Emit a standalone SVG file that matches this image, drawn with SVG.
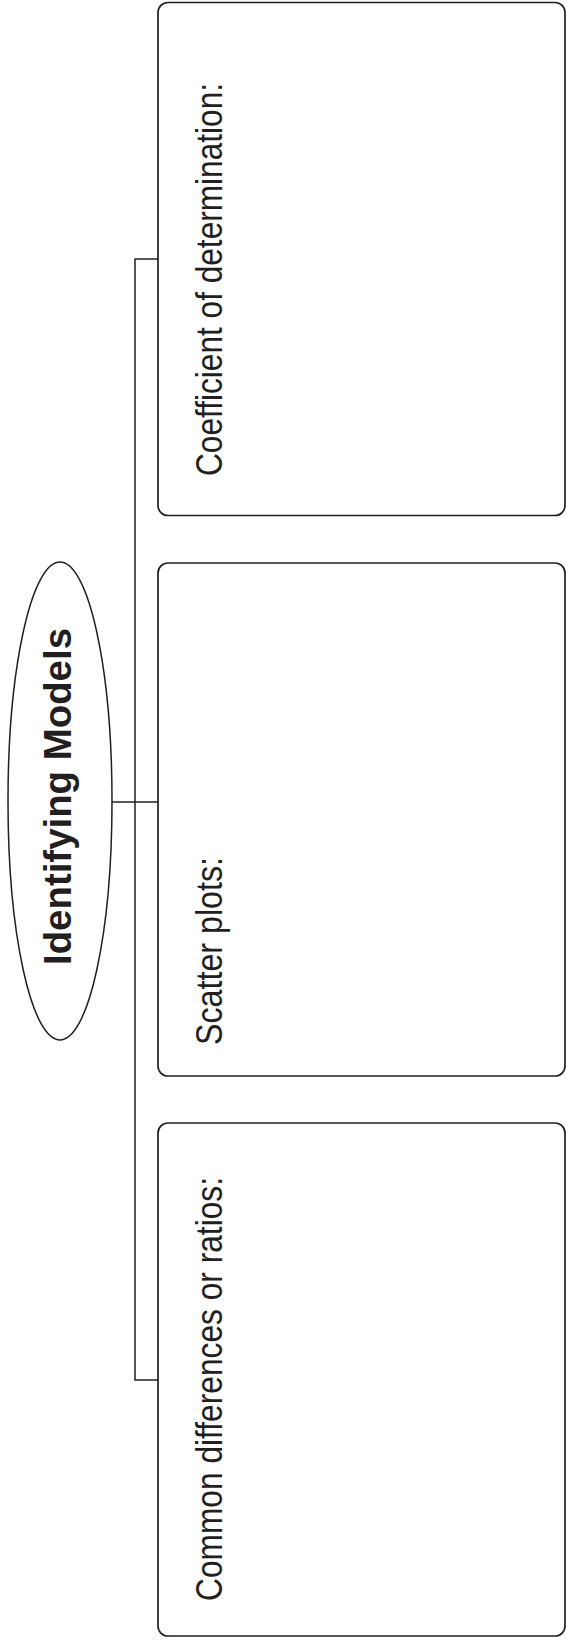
<svg xmlns="http://www.w3.org/2000/svg" width="566" height="1640" viewBox="0 0 566 1640">
<style>
.box{fill:#fff;stroke:#231f20;stroke-width:1.7}
.lbl{font-family:"Liberation Sans",Arial,sans-serif;font-size:37px;fill:#231f20}
.ttl{font-family:"Liberation Sans",Arial,sans-serif;font-size:39px;font-weight:bold;fill:#231f20}
.con{fill:none;stroke:#231f20;stroke-width:1.5}
</style>
<rect width="566" height="1640" fill="#fff"/>
<g id="connectors">
<path class="con" d="M158,259 H135 V1380 H158"/>
<path class="con" d="M112,802 H158"/>
</g>
<g id="title">
<ellipse cx="60" cy="801" rx="52" ry="239" fill="#fff" stroke="#231f20" stroke-width="1.5"/>
<text class="ttl" transform="translate(71,965) rotate(-90)" textLength="337" lengthAdjust="spacingAndGlyphs">Identifying Models</text>
</g>
<g id="coefficient">
<rect class="box" x="158" y="2.5" width="407" height="513" rx="10"/>
<text class="lbl" transform="translate(222,476) rotate(-90)" textLength="393" lengthAdjust="spacingAndGlyphs">Coefficient of determination:</text>
</g>
<g id="scatter">
<rect class="box" x="158" y="563" width="407" height="513" rx="10"/>
<text class="lbl" transform="translate(222,1045) rotate(-90)" textLength="188" lengthAdjust="spacingAndGlyphs">Scatter plots:</text>
</g>
<g id="common">
<rect class="box" x="158" y="1123" width="407" height="513" rx="10"/>
<text class="lbl" transform="translate(222,1601) rotate(-90)" textLength="424" lengthAdjust="spacingAndGlyphs">Common differences or ratios:</text>
</g>
</svg>
